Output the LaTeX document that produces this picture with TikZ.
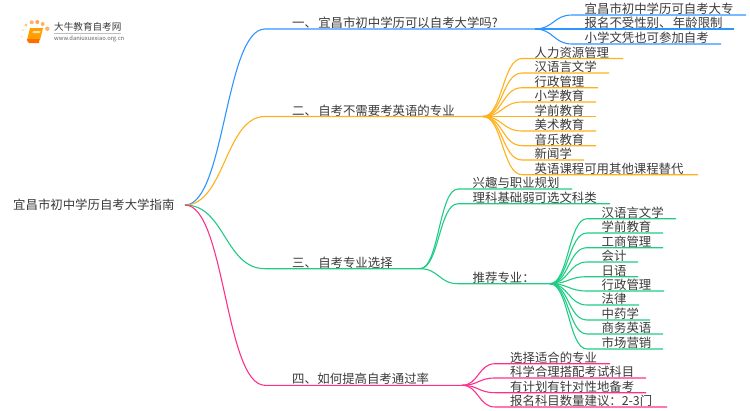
\documentclass[tikz,border=0pt]{standalone}
\usepackage{fontspec}
\setmainfont{Noto Sans CJK SC}
\usetikzlibrary{calc}
\definecolor{cblue}{HTML}{2F94FF}
\definecolor{corange}{HTML}{FFB11B}
\definecolor{cgreen}{HTML}{1FCC84}
\definecolor{cpink}{HTML}{FF2F8E}
\definecolor{ctext}{HTML}{3A3A3A}
\begin{document}
\begin{tikzpicture}[x=1pt,y=-1pt,
                    lbl/.style={anchor=base west,inner sep=0pt,text=ctext,
                    font=\fontsize{12.4}{14}\selectfont},
                    lnk/.style={#1,line width=1.1pt},
                    sig/.style={to path={let \p1=(\tikztostart),\p2=(\tikztotarget) in
                    .. controls ({(\x1+\x2)/2},\y1) and ({(\x1+\x2)/2},\y2) .. (\tikztotarget)}},
                    dot/.style={circle,inner sep=0pt,fill=orange!#1!white}]
    \useasboundingbox (0,0) rectangle (750,410);
    \node[lbl] (root) at (13,209.5) {宜昌市初中学历自考大学指南};
    \coordinate (r0) at (185,205);

    \foreach \i/\y/\xe/\col/\txt in {1/29/535/cblue/一、\hspace{1.3pt}宜昌市初中学历可以自考大学吗?,
                                     2/116.5/483/corange/二、\hspace{1.3pt}自考不需要考英语的专业,
                                     3/268.7/420/cgreen/三、\hspace{1.3pt}自考专业选择,
                                     4/385.3/462/cpink/四、\hspace{.5pt}如何提高自考通过率}{
        \node[lbl] (n\i) at (292,\y-1.5) {\txt};
        \coordinate (n\i s) at (265,\y);
        \coordinate (n\i e) at (\xe,\y);
        \draw[lnk=\col] (r0) to[sig] (n\i s) -- (n\i e);
    }

    \foreach \i/\y/\xe/\txt in {1/15/746/宜昌市初中学历可自考大专,
                                2/29/734/报名不受性别、\hspace{1.5pt}年龄限制,
                                3/44/721/小学文凭也可参加自考}{
        \node[lbl] (n1\i) at (584.5,\y-1.5) {\txt};
        \coordinate (n1\i s) at (572,\y);
        \coordinate (n1\i e) at (\xe,\y);
        \draw[lnk=cblue] (n1e) to[sig] (n1\i s) -- (n1\i e);
    }

    \foreach \i/\y/\xe/\txt in {1/58.5/623/人力资源管理,
                                2/73/609/汉语言文学,
                                3/87.7/598/行政管理,
                                4/102/596/小学教育,
                                5/116.5/596/学前教育,
                                6/131/596/美术教育,
                                7/145.7/596/音乐教育,
                                8/160/584/新闻学,
                                9/174.7/698/英语课程可用其他课程替代}{
        \node[lbl] (n2\i) at (534.5,\y-1.5) {\txt};
        \coordinate (n2\i s) at (522,\y);
        \coordinate (n2\i e) at (\xe,\y);
        \draw[lnk=corange] (n2e) to[sig] (n2\i s) -- (n2\i e);
    }

    \foreach \i/\y/\xe/\txt in {1/189/572/兴趣与职业规划,
                                2/203.7/610/理科基础弱可选文科类,
                                3/283.7/550/推荐专业：}{
        \node[lbl] (n3\i) at (472.5,\y-1.5) {\txt};
        \coordinate (n3\i s) at (458,\y);
        \coordinate (n3\i e) at (\xe,\y);
        \draw[lnk=cgreen] (n3e) to[sig] (n3\i s) -- (n3\i e);
    }

    \foreach \i/\y/\xe/\txt in {1/218.7/676/汉语言文学,
                                2/233/663/学前教育,
                                3/247.7/663/工商管理,
                                4/262/638/会计,
                                5/276.7/638/日语,
                                6/291/664/行政管理,
                                7/305/639/法律,
                                8/320/650/中药学,
                                9/334/663/商务英语,
                                0/349/663/市场营销}{
        \node[lbl] (n33\i) at (601.5,\y-1.5) {\txt};
        \coordinate (n33\i s) at (587,\y);
        \coordinate (n33\i e) at (\xe,\y);
        \draw[lnk=cgreen] (n33e) to[sig] (n33\i s) -- (n33\i e);
    }

    \foreach \i/\y/\xe/\txt in {1/363.7/610/选择适合的专业,
                                2/378/646/科学合理搭配考试科目,
                                3/392.7/646/有计划有针对性地备考,
                                4/407/667/报名科目数量建议：2-3门}{
        \node[lbl] (n4\i) at (510,\y-1.5) {\txt};
        \coordinate (n4\i s) at (495,\y);
        \coordinate (n4\i e) at (\xe,\y);
        \draw[lnk=cpink] (n4e) to[sig] (n4\i s) -- (n4\i e);
    }

    \foreach \i/\x/\y/\r/\o in {1/22.7/30/1.2/25,2/26/25/1.6/45,3/31.7/22.3/2/60,
                                4/37.3/22/2/70,5/42.7/24/2/60,6/47.3/28.7/2.2/60,
                                7/21.7/36.7/1.2/20,8/22.7/42.3/1/12}{
        \node[dot=\o,minimum size=\r*2pt] (d\i) at (\x,\y) {};
    }
    \fill[orange!75!yellow] (30,28) -- (43,28) -- (40,40) -- (27,40) -- cycle;
    \fill[orange!85!red] (27,39) -- (39.5,39) -- (39,43) -- (29,43) to[bend left=30] cycle;
    \fill[white!70!orange] (33,31) -- (40.5,31) -- (40,33) -- (32.5,33) -- cycle;
    \node[anchor=base west,inner sep=0pt,text=ctext,font=\fontsize{9.6}{11}\selectfont] (logo) at (54,30.5) {大牛教育自考网};
    \draw[black!25,line width=.5pt] (54,33.3) coordinate (lg0) -- (121,33.3) coordinate (lg1);
    \node[anchor=base west,inner sep=0pt,text=ctext!80,font=\fontsize{5.8}{7}\selectfont] (url) at (54,40.5) {www.daniuxuexiao.org.cn};
\end{tikzpicture}
\end{document}
